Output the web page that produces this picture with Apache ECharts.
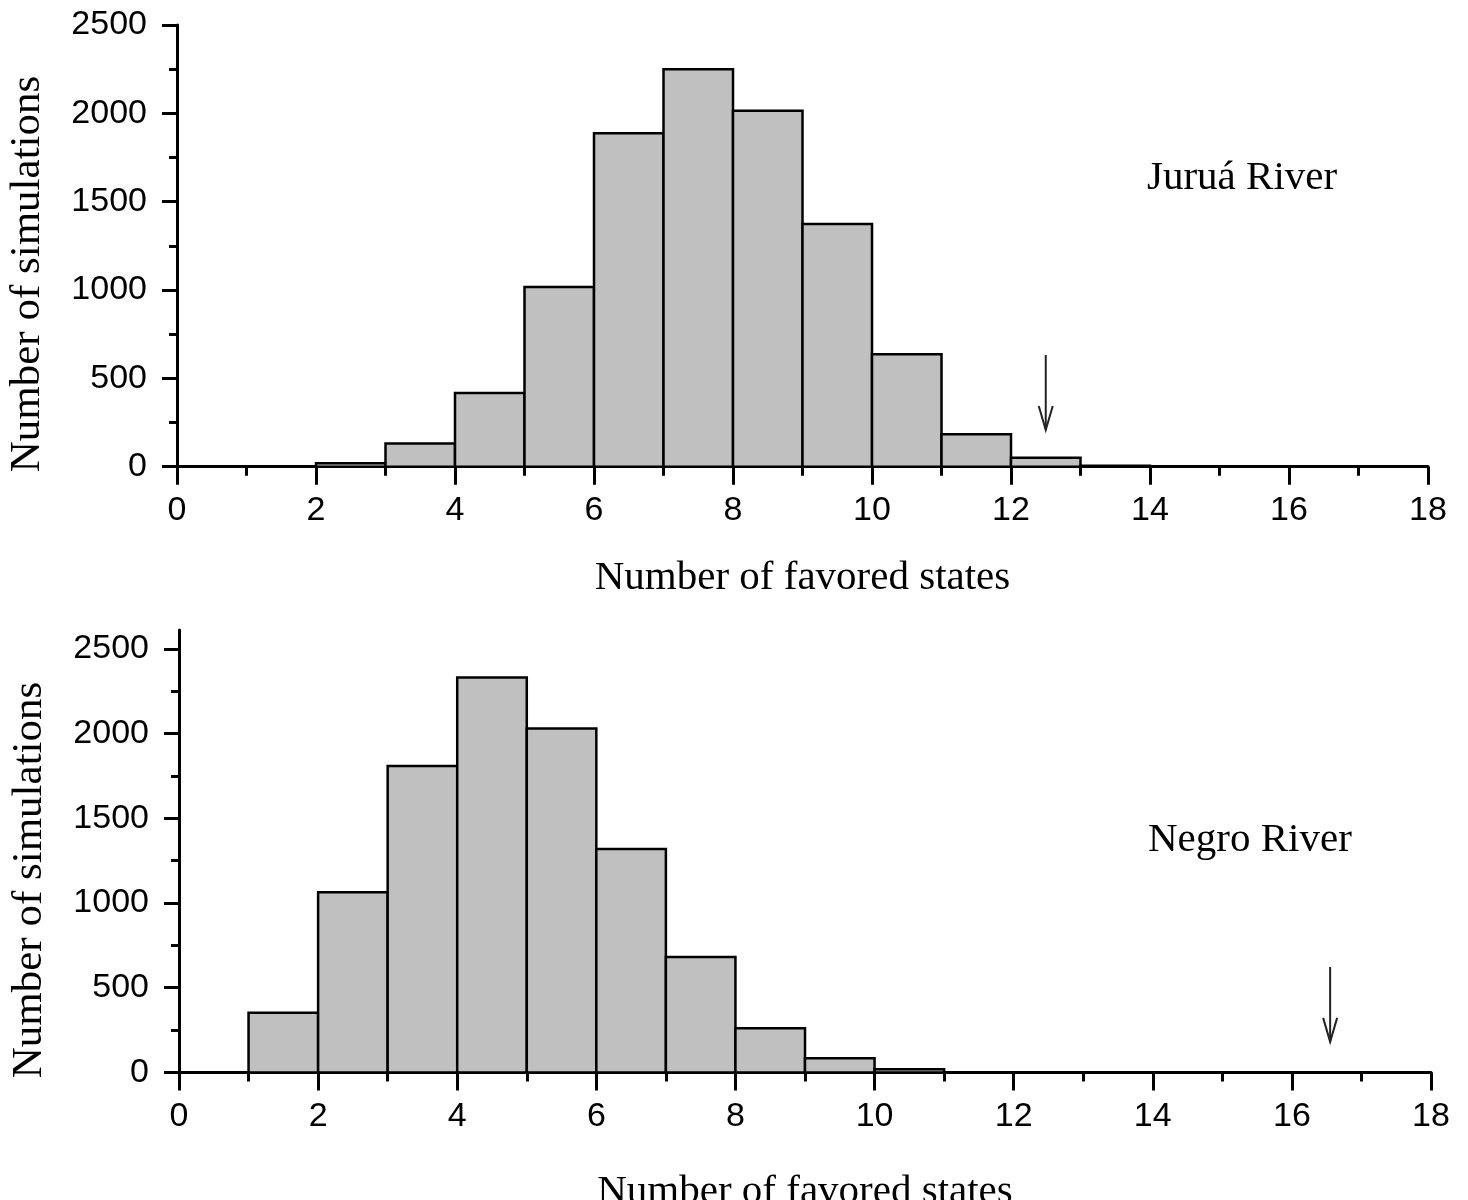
<!DOCTYPE html>
<html>
<head>
<meta charset="utf-8">
<script src="https://cdn.jsdelivr.net/npm/echarts@6/dist/echarts.min.js"></script>
<style>html,body{margin:0;padding:0;background:#fff}#c{width:1468px;height:1200px}</style>
</head>
<body>
<div id="c"></div>
<script>
// ---- data ----
const juruaBinStart = [2, 3, 4, 5, 6, 7, 8, 9, 10, 11, 12, 13];
const juruaCounts   = [20, 132, 417, 1017, 1887, 2249, 2015, 1374, 636, 183, 51, 5];
const negroBinStart = [1, 2, 3, 4, 5, 6, 7, 8, 9, 10];
const negroCounts   = [352, 1063, 1809, 2330, 2029, 1319, 681, 260, 83, 18];
const binWidth = 1;
const juruaArrow = [12.5, 632, 208];   // x, yFrom, yTo
const negroArrow = [16.55, 622, 180];
const xTicksMajor = [0, 2, 4, 6, 8, 10, 12, 14, 16, 18];
const yTicksMajor = [0, 500, 1000, 1500, 2000, 2500];
const yTicksMinor = [250, 750, 1250, 1750, 2250];
const xLabel = 'Number of favored states';
const yLabel = 'Number of simulations';
const riverLabels = ['Juruá River', 'Negro River'];

const serif = 'Liberation Serif';
const sans = 'Liberation Sans';

function histData(starts, counts) {
  return starts.map((s, i) => [s, s + binWidth, counts[i]]);
}

function barRender(params, api) {
  const p0 = api.coord([api.value(0), api.value(2)]);
  const p1 = api.coord([api.value(1), 0]);
  return {
    type: 'rect',
    shape: { x: p0[0], y: p0[1], width: p1[0] - p0[0], height: p1[1] - p0[1] },
    style: { fill: '#c0c0c0', stroke: '#000', lineWidth: 2.5 }
  };
}

function arrowRender(params, api) {
  const a = api.coord([api.value(0), api.value(1)]);
  const b = api.coord([api.value(0), api.value(2)]);
  return {
    type: 'group',
    children: [
      { type: 'line', shape: { x1: a[0], y1: a[1], x2: b[0], y2: b[1] }, style: { stroke: '#222', lineWidth: 2 } },
      { type: 'polyline', shape: { points: [[b[0] - 7, b[1] - 24], [b[0], b[1]], [b[0] + 7, b[1] - 24]] }, style: { stroke: '#222', lineWidth: 2, fill: null } }
    ]
  };
}

const plain = v => String(v);

function xAxisCfg(grid, gap) {
  return {
    type: 'value', gridIndex: grid, min: 0, max: 18, interval: 2,
    name: xLabel, nameLocation: 'middle', nameGap: gap,
    nameTextStyle: { fontFamily: serif, fontSize: 41, color: '#000' },
    axisLine: { onZero: false, lineStyle: { color: '#000', width: 3 } },
    axisTick: { length: 18, lineStyle: { color: '#000', width: 3 } },
    minorTick: { show: true, splitNumber: 2, length: 9, lineStyle: { color: '#000', width: 3 } },
    axisLabel: { margin: 27, formatter: plain, fontFamily: sans, fontSize: 34, color: '#000' },
    splitLine: { show: false }, minorSplitLine: { show: false }
  };
}

function yAxisMain(grid, max) {
  return {
    type: 'value', gridIndex: grid, min: 0, max: max, interval: 500,
    axisLine: { lineStyle: { color: '#000', width: 3 } },
    axisTick: { length: 15, customValues: yTicksMajor, lineStyle: { color: '#000', width: 3 } },
    axisLabel: { margin: 30, customValues: yTicksMajor, formatter: plain, fontFamily: sans, fontSize: 34, color: '#000' },
    splitLine: { show: false }
  };
}
function yAxisMinor(grid, max) {
  return {
    type: 'value', gridIndex: grid, min: 0, max: max, interval: 500, position: 'left',
    axisLine: { show: false },
    axisTick: { length: 8, customValues: yTicksMinor, lineStyle: { color: '#000', width: 3 } },
    axisLabel: { show: false },
    splitLine: { show: false }
  };
}

const chart = echarts.init(document.getElementById('c'), null, { renderer: 'canvas' });
chart.setOption({
  animation: false,
  backgroundColor: '#fff',
  grid: [
    { left: 177, width: 1251, top: 25, height: 441.7, containLabel: false, outerBoundsMode: 'none' },
    { left: 179, width: 1252, top: 630, height: 442.4, containLabel: false, outerBoundsMode: 'none' }
  ],
  xAxis: [xAxisCfg(0, 91), xAxisCfg(1, 99)],
  yAxis: [yAxisMain(0, 2500), yAxisMinor(0, 2500), yAxisMain(1, 2611), yAxisMinor(1, 2611)],
  series: [
    { type: 'custom', xAxisIndex: 0, yAxisIndex: 0, renderItem: barRender, data: histData(juruaBinStart, juruaCounts), encode: { x: [0, 1], y: 2 }, clip: false, z: 1 },
    { type: 'custom', xAxisIndex: 1, yAxisIndex: 2, renderItem: barRender, data: histData(negroBinStart, negroCounts), encode: { x: [0, 1], y: 2 }, clip: false, z: 1 },
    { type: 'custom', xAxisIndex: 0, yAxisIndex: 0, renderItem: arrowRender, data: [juruaArrow], encode: { x: 0, y: [1, 2] }, clip: false },
    { type: 'custom', xAxisIndex: 1, yAxisIndex: 2, renderItem: arrowRender, data: [negroArrow], encode: { x: 0, y: [1, 2] }, clip: false }
  ],
  graphic: [
    { type: 'text', x: 28, y: 274, rotation: Math.PI / 2, style: { text: yLabel, fontFamily: serif, fontSize: 43, fill: '#000', align: 'center', verticalAlign: 'middle' } },
    { type: 'text', x: 30, y: 880, rotation: Math.PI / 2, style: { text: yLabel, fontFamily: serif, fontSize: 43, fill: '#000', align: 'center', verticalAlign: 'middle' } },
    { type: 'text', x: 1147, y: 178, style: { text: riverLabels[0], fontFamily: serif, fontSize: 41, fill: '#000', align: 'left', verticalAlign: 'middle' } },
    { type: 'text', x: 1148, y: 840, style: { text: riverLabels[1], fontFamily: serif, fontSize: 41, fill: '#000', align: 'left', verticalAlign: 'middle' } }
  ]
});
</script>
</body>
</html>
